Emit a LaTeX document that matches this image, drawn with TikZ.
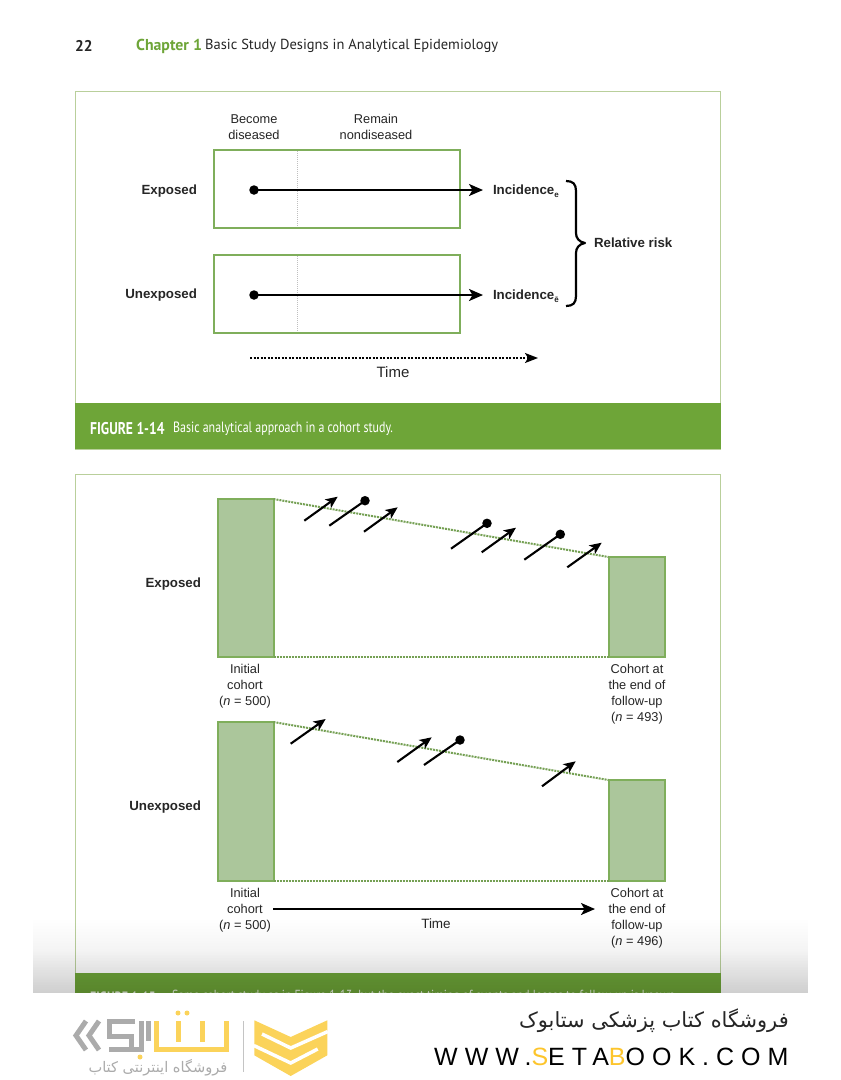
\documentclass[tikz,border=0pt]{standalone}
\usepackage{fontspec}
\usetikzlibrary{arrows.meta,fadings}
\setmainfont{Liberation Sans}
\newfontfamily\headfont{PT Sans}
\newfontfamily\capfont[FakeStretch=0.8]{PT Sans}
\newfontfamily\arabicfont[Script=Arabic]{DejaVu Sans}
\newfontfamily\urlfont[LetterSpace=28]{Liberation Sans}
\TeXXeTstate=1
\definecolor{pband}{HTML}{6EA538}
\definecolor{pedge}{HTML}{B9CF9B}
\definecolor{gedge}{HTML}{7FAE5B}
\definecolor{gfill}{HTML}{ABC69B}
\definecolor{gold}{HTML}{FBD35A}
\definecolor{urlgold}{HTML}{FDC52C}
\definecolor{lgray}{HTML}{ABABAB}
\definecolor{headgreen}{HTML}{6EA538}
\tikzfading[name=shadefade, top color=transparent!100, bottom color=transparent!90]
\newcommand{\sz}[1]{\fontsize{#1}{#1}\selectfont}
\tikzset{
  txt/.style={font=\sz{12.8}, align=center, text=black!85, inner sep=0pt, outer sep=0pt},
  lab/.style={font=\bfseries\sz{13.3}, text=black!85, inner sep=0pt, outer sep=0pt},
  panel/.style={draw=pedge, fill=white, line width=1pt},
  band/.style={fill=pband},
  framebox/.style={draw=gedge, line width=2pt, inner sep=0pt, outer sep=0pt, minimum height=78pt, minimum width=246pt},
  bar/.style={draw=gedge, fill=gfill, line width=2pt, inner sep=0pt, outer sep=0pt, minimum width=56pt},
  divider/.style={draw=black!25, dash pattern=on 1pt off 1pt, line width=0.8pt},
  dotline/.style={draw=gedge!92!black, dash pattern=on 2pt off 1pt, line width=2pt},
  hit/.style={line width=2.1pt, draw=black, -{Stealth[length=12pt,width=10.5pt,inset=3pt]}},
  lost/.style={line width=2.1pt, draw=black},
  ball/.style={circle, fill=black, inner sep=0pt, outer sep=0pt, minimum size=9.5pt},
  mainarrow/.style={line width=2pt, draw=black, -{Stealth[length=14pt,width=12pt,inset=3.5pt]}},
  goldstroke/.style={draw=gold, line width=5pt, line join=miter},
  graystroke/.style={draw=lgray, line width=5pt, line join=miter},
}
\begin{document}
\begin{tikzpicture}[x=1pt,y=-1pt]
\useasboundingbox (0,0) rectangle (841,1080);
\fill[white] (0,0) rectangle (841,1080);

% running head
\node[anchor=west, inner sep=0, font=\headfont\bfseries\sz{15.5}, text=black!85] (pageno) at (75,46) {22};
\node[anchor=west, inner sep=0, font=\headfont\bfseries\sz{15.8}, text=headgreen] (chap) at (136,46) {Chapter 1};
\node[anchor=west, inner sep=0, font=\headfont\sz{14.5}, text=black!85] (runtitle) at (205,46) {Basic Study Designs in Analytical Epidemiology};

% Figure 1-14 panel
\fill[panel] (75.5,91.5) rectangle (720.5,449);
\fill[band] (75,403) rectangle (721,449);
\node[anchor=west, inner sep=0, font=\capfont\bfseries\sz{17}, text=white] (cap14a) at (90,429) {FIGURE 1-14};
\node[anchor=west, inner sep=0, font=\capfont\sz{14.9}, text=white] (cap14b) at (173,429) {Basic analytical approach in a cohort study.};

\node[framebox] (box1) at (337,189) {};
\node[framebox] (box2) at (337,294) {};
\coordinate (d1a) at (297,151); \coordinate (d1b) at (297,227);
\coordinate (d2a) at (297,256); \coordinate (d2b) at (297,332);
\draw[divider] (d1a) -- (d1b);
\draw[divider] (d2a) -- (d2b);

\node[txt] (become) at (254,127) {Become\\[3pt]diseased};
\node[txt] (remain) at (376,127) {Remain\\[3pt]nondiseased};
\node[lab, anchor=east] (exp1) at (197,191) {Exposed};
\node[lab, anchor=east] (unexp1) at (197,295) {Unexposed};

\node[ball] (dot1) at (254,190) {};
\node[ball] (dot2) at (254,295) {};
\node[lab, anchor=west] (inc1) at (493,191) {Incidence\raisebox{-2.5pt}{\sz{8}e}};
\node[lab, anchor=west] (inc2) at (493,296) {Incidence\raisebox{-2.5pt}{\sz{8}ē}};
\draw[mainarrow, shorten >=10pt] (dot1.center) -- (inc1.west |- dot1.center);
\draw[mainarrow, shorten >=10pt] (dot2.center) -- (inc2.west |- dot2.center);

\coordinate (bracetop) at (566,181);
\coordinate (bracetip) at (585,243);
\coordinate (bracebot) at (566,306);
\draw[line width=2.2pt, line join=round] (bracetop) .. controls (573,181) and (576,184) .. (576,191) -- (576,233) .. controls (576,238) and (579,242) .. (bracetip) .. controls (579,244) and (576,248) .. (576,253) -- (576,296) .. controls (576,303) and (573,306) .. (bracebot);
\node[lab, anchor=west] (rr) at (594,243) {Relative risk};

\coordinate (time1a) at (250,358);
\coordinate (time1b) at (538,358);
\draw[line width=1.6pt, dash pattern=on 2pt off 1.5pt, -{Stealth[length=13pt,width=10pt,inset=3pt]}] (time1a) -- (time1b);
\node[txt, font=\sz{15}] (time1) at (393,372) {Time};

% Figure 1-15 panel
\fill[panel] (75.5,474.5) rectangle (720.5,1000);
\fill[band] (75,973) rectangle (721,1000);

% exposed cohort
\node[bar, minimum height=158pt] (b1) at (245.5,578) {};
\node[bar, minimum height=100pt] (b2) at (636.5,607) {};
\draw[dotline] (b1.north east) -- (b2.north west);
\draw[dotline] (b1.south east) -- (b2.south west);
\node[lab, anchor=east] (exp2) at (201,584.5) {Exposed};
\node[txt] (init1) at (245,686) {Initial\\[3pt]cohort\\[3pt](\textit{n} = 500)};
\node[txt] (end1) at (637,694) {Cohort at\\[3pt]the end of\\[3pt]follow-up\\[3pt](\textit{n} = 493)};

% unexposed cohort
\node[bar, minimum height=159pt] (b3) at (245.5,801.5) {};
\node[bar, minimum height=101pt] (b4) at (636.5,830.5) {};
\draw[dotline] (b3.north east) -- (b4.north west);
\draw[dotline] (b3.south east) -- (b4.south west);
\node[lab, anchor=east] (unexp2) at (201,807.5) {Unexposed};
\node[txt] (init2) at (245,910) {Initial\\[3pt]cohort\\[3pt](\textit{n} = 500)};
\node[txt] (end2) at (637,918) {Cohort at\\[3pt]the end of\\[3pt]follow-up\\[3pt](\textit{n} = 496)};

% withdrawals
\foreach \n/\xa/\ya/\xb/\yb in {a/304.3/520.7/337.7/496.7, b/364/531.7/397.7/507.3, c/481.7/552.3/516/527.7, d/567.3/567.3/601.7/542.7, e/290.7/743.7/325.7/719, f/397.3/762/431.7/737.3, g/542/786.3/575.7/761.3}{
  \coordinate (s\n) at (\xa,\ya);
  \coordinate (t\n) at (\xb,\yb);
  \draw[hit] (s\n) -- (t\n);
}
% events
\foreach \n/\xa/\ya/\xb/\yb in {a/329.3/525.7/365/500.7, b/451/548.7/487/523.3, c/524.3/559.7/560.3/534.3, d/424/765/460/740}{
  \coordinate (q\n) at (\xa,\ya);
  \node[ball] (ev\n) at (\xb,\yb) {};
  \draw[lost] (q\n) -- (ev\n.center);
}

\coordinate (time2a) at (273,909);
\coordinate (time2b) at (595,909);
\draw[mainarrow] (time2a) -- (time2b);
\node[txt, font=\sz{13.5}] (time2) at (436,923.5) {Time};

% cut-off caption
\node[anchor=west, inner sep=0, font=\capfont\bfseries\sz{15}, text=white!85!pband] (cap15a) at (90,997) {FIGURE 1-15};
\node[anchor=west, inner sep=0, font=\capfont\sz{14.6}, text=white!85!pband] (cap15b) at (172,997) {Same cohort study as in Figure 1-13, but the exact timing of events and losses to follow-up is known};

% scan shadow at the page foot
\fill[black, path fading=shadefade] (33,918) rectangle (808,993);
\fill[black, path fading=shadefade] (33,950) rectangle (808,993);
\fill[white] (0,993) rectangle (841,1080);

% shop footer: text
\node[inner sep=0, font=\arabicfont\sz{20.9}, text=black!85] (shopfa) at (654,1021) {\beginR فروشگاه کتاب پزشکی ستابوک\endR};
\node[anchor=west, inner sep=0, font=\urlfont\sz{25}, text=black] (url) at (434,1057) {WWW.\textcolor{urlgold}{S}ETA\textcolor{urlgold}{B}OOK.COM};
\node[inner sep=0, font=\arabicfont\sz{14.6}, text=lgray] (shopsub) at (158,1068) {\beginR فروشگاه اینترنتی کتاب\endR};

% logo emblem
\fill[gold] (254.3,1020.3) -- (290.7,1037) -- (327.3,1020.3) -- (327.3,1055.3) -- (290.7,1076) -- (254.3,1055.3) -- cycle;
\draw[white, line width=3.5pt] (262,1034) -- (290.7,1048) -- (327.8,1031.5);
\draw[white, line width=3.5pt] (253.8,1045.5) -- (290.7,1063) -- (317.7,1049);
\draw[lgray!70, line width=1pt] (243,1021) -- (243,1072);

% logo wordmark
\draw[goldstroke] (156,1021) -- (156,1049) -- (226,1049) -- (226,1021);
\draw[goldstroke] (178,1021) -- (178,1042);
\draw[goldstroke] (202,1021) -- (202,1042);
\fill[gold] (178,1013) circle (2.5pt) (187,1013) circle (2.5pt) (140,1057) circle (2.5pt);
\draw[graystroke] (135,1021) -- (109,1021) -- (109,1036) -- (131,1036) -- (131,1049) -- (141,1049) -- (141,1021);
\draw[graystroke] (109,1049) -- (131,1049);
\draw[graystroke] (148,1021) -- (148,1041);
\draw[graystroke] (86,1021) -- (76,1035.5) -- (86,1050);
\draw[graystroke] (99,1021) -- (89,1035.5) -- (99,1050);
\end{tikzpicture}
\end{document}
